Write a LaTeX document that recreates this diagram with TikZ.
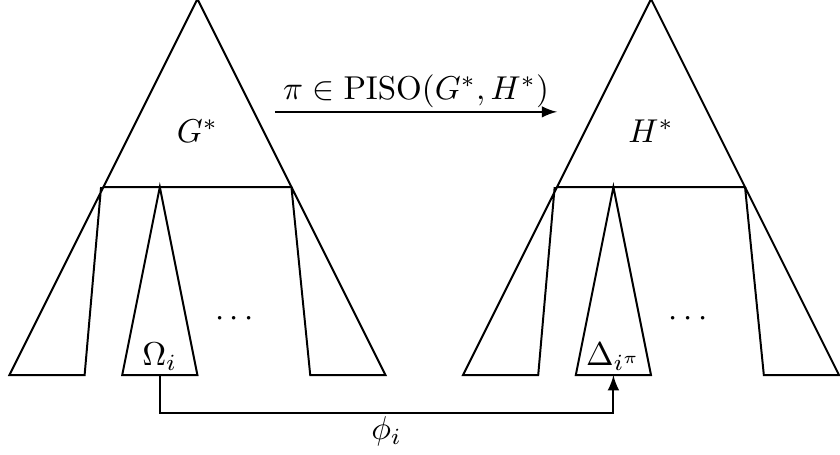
\documentclass[tikz,border=0pt]{standalone}
\usepackage{amsmath}
\usepackage{amssymb}
\usetikzlibrary{arrows}

\begin{document}
\begin{tikzpicture}[x=0.5cm, y=0.5cm,
  treeline/.style={semithick, line join=miter},
  maparrow/.style={semithick, -latex}]
\useasboundingbox (-4.2,-5.68) rectangle (13.67,3.98);

% G^* and its subtrees
\begin{scope}[shift={(0,0)}]
  \draw[treeline] (0,4) -- (-2,0) -- (2,0) -- cycle;
  \draw[treeline] (-2,0) -- (-4,-4) -- (-2.4,-4) -- (-2.05,0);
  \draw[treeline] (-0.8,0) -- (-1.6,-4) -- (0,-4) -- cycle;
  \draw[treeline] (2,0) -- (4,-4) -- (2.4,-4) -- (2,0);
  \node (G) at (0,1.2) {$G^*$};
  \node (Gdots) at (0.85,-2.8) {$\cdots$};
  \node (Om) at (-0.8,-3.6) {$\Omega_i$};
  \coordinate (OmB) at (-0.8,-4);
\end{scope}

% H^* and its subtrees
\begin{scope}[shift={(9.65,0)}]
  \draw[treeline] (0,4) -- (-2,0) -- (2,0) -- cycle;
  \draw[treeline] (-2,0) -- (-4,-4) -- (-2.4,-4) -- (-2.05,0);
  \draw[treeline] (-0.8,0) -- (-1.6,-4) -- (0,-4) -- cycle;
  \draw[treeline] (2,0) -- (4,-4) -- (2.4,-4) -- (2,0);
  \node (H) at (0,1.2) {$H^*$};
  \node (Hdots) at (0.85,-2.8) {$\cdots$};
  \node (De) at (-0.8,-3.6) {$\Delta_{i^\pi}$};
  \coordinate (DeB) at (-0.8,-4);
\end{scope}

\coordinate (PisoL) at (1.65,1.6);
\coordinate (PisoR) at (7.65,1.6);
\draw[maparrow] (PisoL) -- (PisoR)
  node[midway, above, inner sep=1pt] (piso) {$\pi \in \mathrm{PISO}(G^*, H^*)$};

\draw[maparrow] (OmB) -- ++(0,-0.8) -| (DeB)
  node[pos=0.25, below, inner sep=1pt] (phi) {$\phi_i$};

\end{tikzpicture}
\end{document}
